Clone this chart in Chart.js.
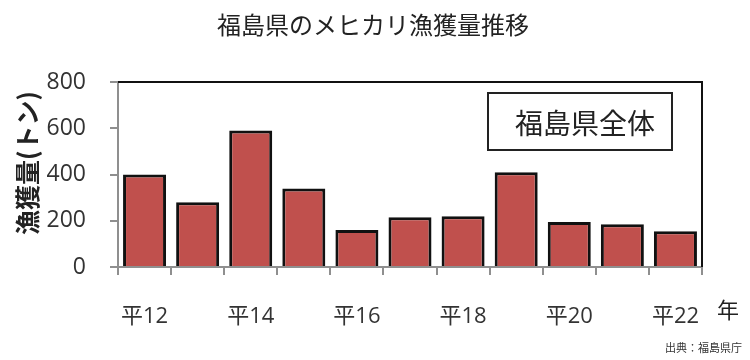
<!DOCTYPE html>
<html>
<head>
<meta charset="utf-8">
<script src="https://cdn.jsdelivr.net/npm/chart.js@4"></script>
<style>
  html, body { margin: 0; padding: 0; background: #fff; }
  #wrap { width: 750px; height: 360px; }
</style>
</head>
<body>
<div id="wrap"><canvas id="catchChart" width="750" height="360"></canvas></div>
<script>
// data
const years = ['平12', '平13', '平14', '平15', '平16', '平17', '平18', '平19', '平20', '平21', '平22'];
const catchTons = [400, 280, 590, 340, 160, 215, 220, 410, 195, 185, 155];
const yTicks = [0, 200, 400, 600, 800];

const chartTitle = '福島県のメヒカリ漁獲量推移';
const seriesName = '福島県全体';
const yTitle = '漁獲量(トン)';
const yearUnit = '年';
const sourceNote = '出典：福島県庁';

const cjk = "'Noto Sans CJK JP', sans-serif";
const num = "'Open Sans', 'Noto Sans CJK JP', sans-serif";

// extra text + frame drawn after the chart
const decorations = {
    id: 'decorations',
    afterDraw(chart) {
        const ctx = chart.ctx;
        const a = chart.chartArea;
        ctx.save();

        // black frame on top and right
        ctx.strokeStyle = '#111';
        ctx.lineWidth = 2;
        ctx.beginPath();
        ctx.moveTo(a.left, a.top);
        ctx.lineTo(a.right, a.top);
        ctx.lineTo(a.right, a.bottom);
        ctx.stroke();

        // title
        ctx.fillStyle = '#222';
        ctx.textAlign = 'center';
        ctx.textBaseline = 'middle';
        ctx.font = '24px ' + cjk;
        ctx.fillText(chartTitle, 373, 25);

        // series box
        ctx.strokeStyle = '#222';
        ctx.lineWidth = 2;
        ctx.strokeRect(488, 93, 184, 57);
        ctx.font = '28px ' + cjk;
        ctx.textAlign = 'left';
        ctx.fillText(seriesName, 515, 123);

        // y axis title
        ctx.save();
        ctx.translate(27, 163);
        ctx.rotate(-Math.PI / 2);
        ctx.textAlign = 'center';
        ctx.font = 'bold 25px ' + cjk;
        ctx.fillText(yTitle, 0, 0);
        ctx.restore();

        // year unit
        ctx.textAlign = 'center';
        ctx.font = '22px ' + cjk;
        ctx.fillText(yearUnit, 728, 310);

        // source
        ctx.textAlign = 'right';
        ctx.font = '11px ' + cjk;
        ctx.fillStyle = '#333';
        ctx.fillText(sourceNote, 742, 348);

        ctx.restore();
    }
};

function drawChart() {
    const ctx = document.getElementById('catchChart').getContext('2d');

    new Chart(ctx, {
        type: 'bar',
        data: {
            labels: years,
            datasets: [{
                label: seriesName,
                data: catchTons,
                backgroundColor: '#c0504d',
                borderColor: '#111',
                borderWidth: 3,
                borderSkipped: 'bottom',
                categoryPercentage: 0.81,
                barPercentage: 1.0,
            }],
        },
        options: {
            responsive: false,
            animation: false,
            devicePixelRatio: 1,
            layout: { padding: { top: 82, right: 48, left: 0, bottom: 0 } },
            plugins: {
                legend: { display: false },
                title: { display: false },
                tooltip: { enabled: false },
            },
            scales: {
                x: {
                    afterFit: (scale) => { scale.height = 93; },
                    grid: {
                        drawOnChartArea: false,
                        drawTicks: true,
                        tickLength: 8,
                        color: '#8f8f8f',
                        lineWidth: 2,
                        offset: true,
                    },
                    border: { display: true, color: '#8f8f8f', width: 2 },
                    ticks: {
                        autoSkip: false,
                        maxRotation: 0,
                        padding: 29,
                        color: '#333',
                        font: { size: 22, family: num },
                        callback: (value, index) => (index % 2 === 0 ? years[index] : ''),
                    },
                },
                y: {
                    min: yTicks[0],
                    max: yTicks[yTicks.length - 1],
                    afterFit: (scale) => { scale.width = 118; },
                    afterBuildTicks: (scale) => { scale.ticks = yTicks.map(v => ({ value: v })); },
                    grid: {
                        drawOnChartArea: false,
                        drawTicks: true,
                        tickLength: 8,
                        color: '#8f8f8f',
                        lineWidth: 2,
                    },
                    border: { display: true, color: '#8f8f8f', width: 2 },
                    ticks: {
                        padding: 24,
                        color: '#333',
                        font: { size: 23, family: num },
                    },
                },
            },
        },
        plugins: [decorations],
    });
}

drawChart();
</script>
</body>
</html>
